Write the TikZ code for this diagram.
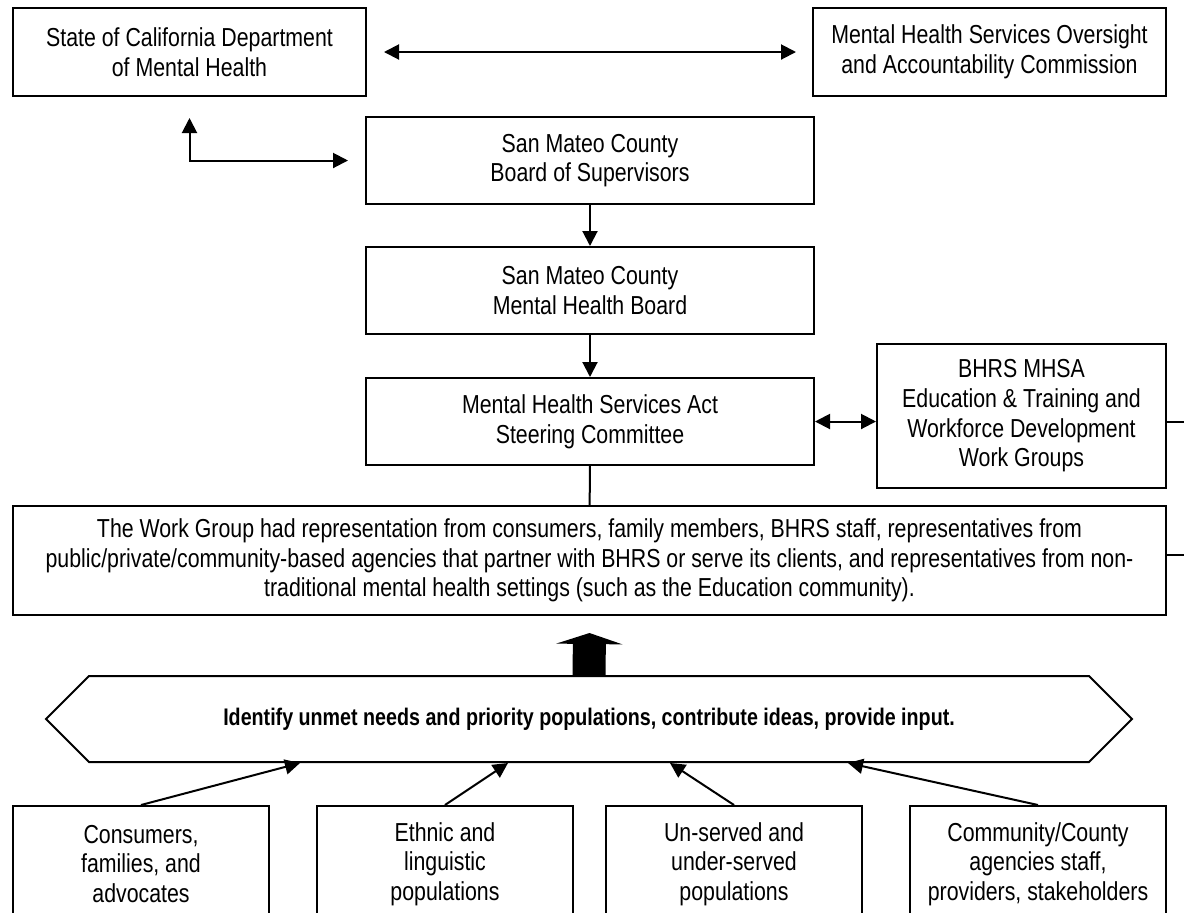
\documentclass[tikz,border=0pt]{standalone}
\usepackage{fontspec}
\setmainfont{Liberation Sans}[FakeStretch=0.82]
\usetikzlibrary{arrows.meta, shapes.symbols}
\tikzset{
    every node/.style={
        font=\fontsize{13pt}{14.8pt}\selectfont
    },
    block/.style={
        draw=black,
        line width=1pt,
        align=center,
        inner sep=2pt
    },
    arr/.style={
        line width=1pt,
        -{Triangle[length=7.5pt, width=7.5pt]}
    },
    dblarr/.style={
        line width=1pt,
        {Triangle[length=7.5pt, width=7.5pt]}-{Triangle[length=7.5pt, width=7.5pt]}
    }
}

\begin{document}
\begin{tikzpicture}[x=0.5pt, y=-0.5pt]
            % Page frame (1 unit = 1 px of the reference)
            \useasboundingbox (0,0) rectangle (1184,912);

            % Boxes
            \node (dmh) [
                block,
                minimum width=176.5pt,
                minimum height=44pt,
            ] at (189.5,52) {State of California Department\\of Mental Health};
            \node (mhsoac) [
                block,
                minimum width=176.5pt,
                minimum height=44pt,
            ] at (989.5,52) {Mental Health Services Oversight\\and Accountability Commission};
            \node (board) [
                block,
                minimum width=224pt,
                minimum height=43.5pt,
            ] at (590,160.5) {San Mateo County\\Board of Supervisors};
            \node (mhb) [
                block,
                minimum width=224pt,
                minimum height=43.5pt,
            ] at (590,290.5) {San Mateo County\\Mental Health Board};
            \node (steer) [
                block,
                minimum width=224pt,
                minimum height=43.5pt,
            ] at (590,421.5) {Mental Health Services Act\\Steering Committee};
            \node (bhrs) [
                block,
                minimum width=144.5pt,
                minimum height=72pt,
            ] at (1021.5,416) {BHRS MHSA\\Education \& Training and\\Workforce Development\\Work Groups};
            \node (wg) [
                block,
                minimum width=576.5pt,
                minimum height=54.5pt,
            ] at (589.5,560.5) {The Work Group had representation from consumers, family members, BHRS staff, representatives from\\public/private/community-based agencies that partner with BHRS or serve its clients, and representatives from non-\\traditional mental health settings (such as the Education community).};
            \node (hex) [
                block,
                signal,
                signal to=west and east,
                minimum width=543pt,
                minimum height=43pt,
                font=\fontsize{12pt}{14pt}\selectfont\bfseries,
            ] at (589,719) {Identify unmet needs and priority populations, contribute ideas, provide input.};

            % Input groups
            \node (cons) [
                block,
                minimum width=128pt,
                minimum height=58pt,
            ] at (141,864) {Consumers,\\families, and\\advocates};
            \node (ethn) [
                block,
                minimum width=128pt,
                minimum height=58pt,
            ] at (445,864) {Ethnic and\\linguistic\\populations};
            \node (unsv) [
                block,
                minimum width=128pt,
                minimum height=58pt,
            ] at (734,864) {Un-served and\\under-served\\populations};
            \node (agcy) [
                block,
                minimum width=128pt,
                minimum height=58pt,
            ] at (1038,864) {Community/County\\agencies staff,\\providers, stakeholders};

            % Edges
            \draw [dblarr] ([xshift=8.5pt]dmh.east) -- ([xshift=-8pt]mhsoac.west);
            \draw [dblarr] ([yshift=-10.5pt]dmh.south) |- ([xshift=-8.5pt]board.west);
            \draw [dblarr] (steer.east) -- (steer.east -| bhrs.west);
            \path [arr]
                (board) edge (mhb)
                (mhb) edge (steer)

                % Into the input bar
                (cons.north) edge ([xshift=-144.5pt]hex.south)
                (ethn.north) edge ([xshift=-40.5pt]hex.south)
                (unsv.north) edge ([xshift=40.5pt]hex.south)
                (agcy.north) edge ([xshift=129.5pt]hex.south)
            ;
            \draw [line width=1pt] (steer) -- (wg);
            \draw [line width=1pt] (steer.east -| bhrs.east) -- ++(40,0) |- ([yshift=3pt]wg.east);

            % Big arrow up to the work group
            \draw [line width=16.5pt, -{Triangle[width=33pt, length=5.5pt]}]
                (hex.north) -- ([yshift=-8.5pt]wg.south);
        \end{tikzpicture}
\end{document}
